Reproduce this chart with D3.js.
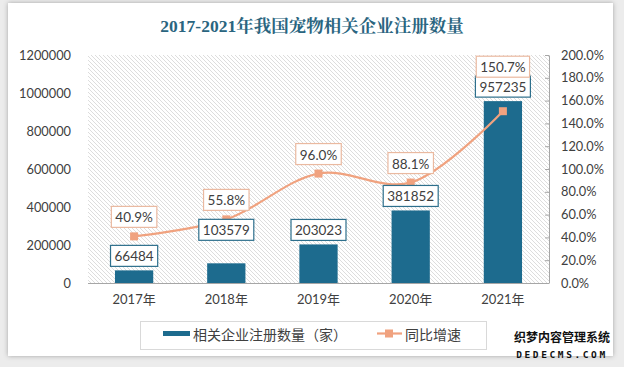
<!DOCTYPE html>
<html><head><meta charset="utf-8">
<script src="https://cdn.jsdelivr.net/npm/d3@7/dist/d3.min.js"></script>
<style>
html,body{margin:0;padding:0;background:#ececec;}
svg{display:block;}
</style></head>
<body>
<script>
const years = ["2017年","2018年","2019年","2020年","2021年"];
const counts = [66484, 103579, 203023, 381852, 957235];
const growth = [40.9, 55.8, 96.0, 88.1, 150.7];
const leftTicks = [0,200000,400000,600000,800000,1000000,1200000];
const rightTicks = [0,20,40,60,80,100,120,140,160,180,200];
const title = "2017-2021年我国宠物相关企业注册数量";
const legendNames = ["相关企业注册数量（家）","同比增速"];

const W=624,H=367;
const barColor="#1d6b8e", lineColor="#f0a27f";
const font="Lato, 'Noto Sans CJK SC', sans-serif";
const cjk="'Noto Sans CJK SC', sans-serif";
const svg=d3.select("body").append("svg").attr("width",W).attr("height",H);

const defs=svg.append("defs");
const f=defs.append("filter").attr("id","sh").attr("x","-5%").attr("y","-5%").attr("width","110%").attr("height","110%");
f.append("feDropShadow").attr("dx",0).attr("dy",0).attr("stdDeviation",2.5).attr("flood-color","#000").attr("flood-opacity",0.3);
const pat=defs.append("pattern").attr("id","hatch").attr("patternUnits","userSpaceOnUse").attr("width",4).attr("height",4);
pat.append("path").attr("d","M-1,-1 L5,5 M3,-1 L5,1 M-1,3 L1,5").attr("stroke","#d4d4d4").attr("stroke-width",0.8);

// card
svg.append("rect").attr("x",8).attr("y",3).attr("width",605).attr("height",353).attr("fill","#fff").attr("filter","url(#sh)");

const m={l:88,r:549,t:55,b:283};
const x=d3.scaleBand().domain(years).range([m.l,m.r]).paddingInner(0.585).paddingOuter(0.2925);
const yL=d3.scaleLinear().domain([0,1200000]).range([m.b,m.t]);
const yR=d3.scaleLinear().domain([0,200]).range([m.b,m.t]);

svg.append("rect").attr("x",m.l).attr("y",m.t).attr("width",m.r-m.l).attr("height",m.b-m.t).attr("fill","url(#hatch)");

// title
svg.append("text").attr("x",312).attr("y",32).attr("text-anchor","middle")
  .attr("font-family","'Liberation Serif','Noto Serif CJK SC','Noto Sans CJK SC',serif").attr("font-weight","bold")
  .attr("font-size",17.5).attr("fill","#2a6580").text(title);

// left axis
const gl=svg.append("g").attr("transform",`translate(${m.l},0)`)
  .call(d3.axisLeft(yL).tickValues(leftTicks).tickSize(0).tickPadding(17).tickFormat(d3.format("d")));
gl.select(".domain").remove();
gl.selectAll("text").attr("font-family",font).attr("font-size",12.8).attr("fill","#404040");

// right axis
const gr=svg.append("g").attr("transform",`translate(${m.r},0)`)
  .call(d3.axisRight(yR).tickValues(rightTicks).tickSizeInner(-4).tickSizeOuter(0).tickPadding(12).tickFormat(d=>d.toFixed(1)+"%"));
gr.select(".domain").attr("stroke","#a6a6a6");
gr.selectAll("line").attr("stroke","#a6a6a6");
gr.selectAll("text").attr("font-family",font).attr("font-size",12.8).attr("fill","#404040");

// bars
svg.selectAll(".bar").data(counts).join("rect").attr("class","bar")
  .attr("x",(d,i)=>x(years[i])).attr("width",x.bandwidth())
  .attr("y",d=>yL(d)).attr("height",d=>m.b-yL(d)).attr("fill",barColor);

// baseline
svg.append("line").attr("x1",m.l).attr("x2",m.r).attr("y1",m.b+0.5).attr("y2",m.b+0.5).attr("stroke","#a6a6a6");

// x axis labels
const gx=svg.append("g").attr("transform",`translate(0,${m.b})`)
  .call(d3.axisBottom(x).tickSize(0).tickPadding(12));
gx.select(".domain").remove();
gx.selectAll("text").attr("font-family",font).attr("font-size",13).attr("fill","#404040");

// line
const cx=i=>x(years[i])+x.bandwidth()/2;
const line=d3.line().x((d,i)=>cx(i)).y(d=>yR(d)).curve(d3.curveCatmullRom.alpha(0.5));
svg.append("path").datum(growth).attr("d",line).attr("fill","none").attr("stroke",lineColor).attr("stroke-width",2.2);
svg.selectAll(".mk").data(growth).join("rect").attr("class","mk")
  .attr("x",(d,i)=>cx(i)-4).attr("y",d=>yR(d)-4).attr("width",8).attr("height",8).attr("fill",lineColor);

// labels (layout nudges, px)
const barLift=[0,19,0,0,0];
const lineLift=[0,0,0,0,25];
function box(cxp,bottom,txt,stroke){
  const g=svg.append("g");
  const r=g.append("rect");
  const t=g.append("text").attr("x",cxp).attr("y",bottom-5).attr("text-anchor","middle")
    .attr("font-family",font).attr("font-size",13.5).attr("fill","#404040").text(txt);
  const w=t.node().getComputedTextLength()+8;
  r.attr("x",cxp-w/2).attr("y",bottom-21).attr("width",w).attr("height",21)
    .attr("fill","#fff").attr("stroke",stroke).attr("stroke-width",1.2);
}
counts.forEach((d,i)=>box(cx(i),yL(d)-4-barLift[i],String(d),"#2d6f8c"));
growth.forEach((d,i)=>box(cx(i),yR(d)-9-lineLift[i],d.toFixed(1)+"%","#eab9a0"));

// legend
const lg=svg.append("g");
lg.append("rect").attr("x",140.5).attr("y",321.5).attr("width",346).attr("height",28).attr("fill","#fff").attr("stroke","#d9d9d9");
lg.append("rect").attr("x",163).attr("y",331).attr("width",27).attr("height",5).attr("fill",barColor);
lg.append("text").attr("x",193).attr("y",340).attr("font-family",cjk).attr("font-size",14).attr("fill","#404040").text(legendNames[0]);
lg.append("line").attr("x1",377).attr("x2",402).attr("y1",333.5).attr("y2",333.5).attr("stroke",lineColor).attr("stroke-width",2.2);
lg.append("rect").attr("x",385).attr("y",329.5).attr("width",8).attr("height",8).attr("fill",lineColor);
lg.append("text").attr("x",405).attr("y",340).attr("font-family",cjk).attr("font-size",14).attr("fill","#404040").text(legendNames[1]);

// watermark
svg.append("text").attr("x",562).attr("y",342).attr("text-anchor","middle").attr("font-family",cjk).attr("font-weight","bold")
  .attr("font-size",12).attr("fill","#111").attr("stroke","#fff").attr("stroke-width",0.6).attr("paint-order","stroke").text("织梦内容管理系统");
svg.append("text").attr("x",562).attr("y",358).attr("text-anchor","middle").attr("font-family","'DejaVu Sans Mono',monospace").attr("font-weight","bold")
  .attr("font-size",9.5).attr("letter-spacing",2.6).attr("fill","#111").text("DEDECMS.COM");
</script>
</body></html>
